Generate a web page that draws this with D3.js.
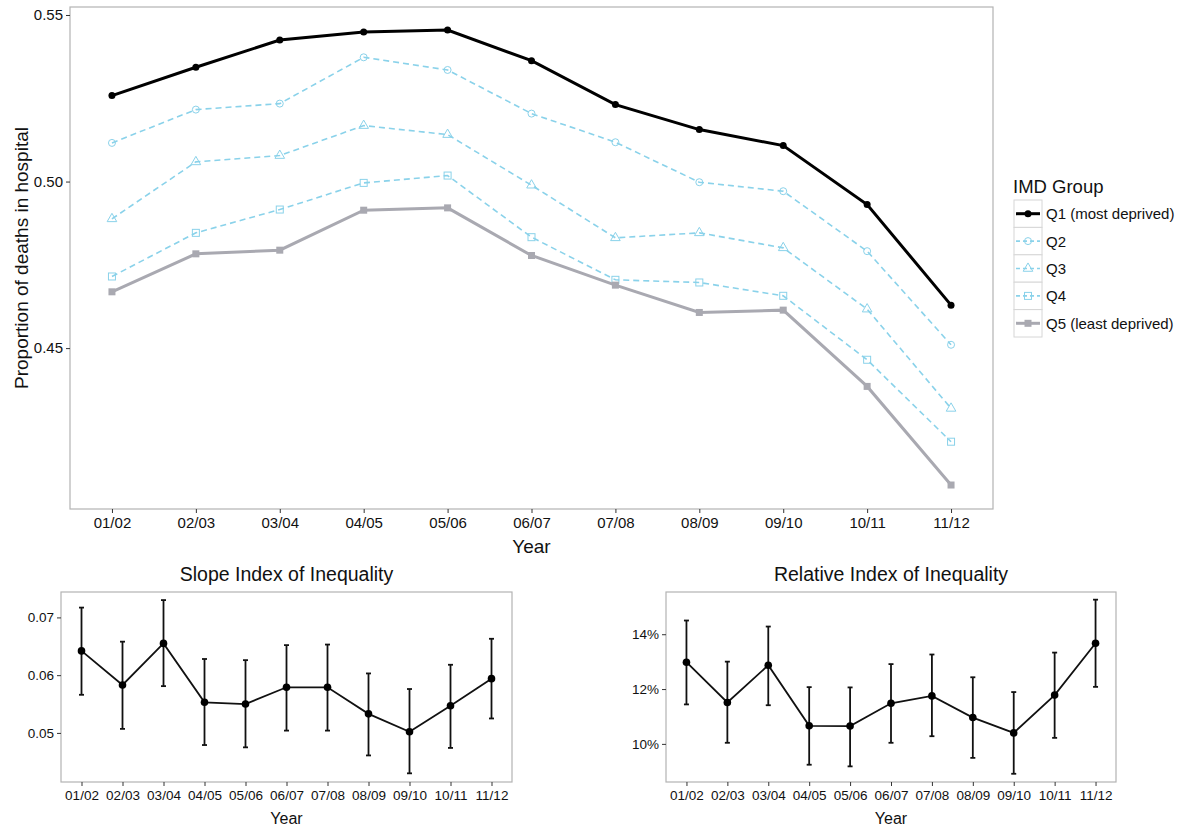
<!DOCTYPE html>
<html>
<head>
<meta charset="utf-8">
<script src="https://cdn.jsdelivr.net/npm/d3@7"></script>
<style>
  body { margin: 0; background: #fff; }
  svg { font-family: "Liberation Sans", Arial, sans-serif; }
</style>
</head>
<body>
<div id="chart"></div>
<script>
// Data
const years = ["01/02", "02/03", "03/04", "04/05", "05/06", "06/07", "07/08", "08/09", "09/10", "10/11", "11/12"];

const q1 = [0.5258, 0.5343, 0.5425, 0.5449, 0.5455, 0.5363, 0.5231, 0.5156, 0.5108, 0.4931, 0.4629];
const q2 = [0.5116, 0.5216, 0.5234, 0.5373, 0.5335, 0.5204, 0.5118, 0.4998, 0.4971, 0.4791, 0.4510];
const q3 = [0.4888, 0.5059, 0.5078, 0.5168, 0.5141, 0.4989, 0.4831, 0.4846, 0.4801, 0.4617, 0.4319];
const q4 = [0.4715, 0.4846, 0.4916, 0.4996, 0.5018, 0.4833, 0.4705, 0.4697, 0.4657, 0.4465, 0.4219];
const q5 = [0.4669, 0.4783, 0.4794, 0.4914, 0.4921, 0.4778, 0.4689, 0.4607, 0.4614, 0.4385, 0.4089];
const groupNames = ["Q1 (most deprived)", "Q2", "Q3", "Q4", "Q5 (least deprived)"];
const mainTicks = [0.45, 0.50, 0.55];

const sii = [0.0642, 0.0583, 0.0655, 0.0553, 0.0550, 0.0579, 0.0579, 0.0533, 0.0502, 0.0547, 0.0594];
const siiLow = [0.0566, 0.0507, 0.0581, 0.0479, 0.0475, 0.0504, 0.0504, 0.0461, 0.0430, 0.0474, 0.0525];
const siiHigh = [0.0717, 0.0658, 0.0730, 0.0628, 0.0626, 0.0652, 0.0653, 0.0603, 0.0576, 0.0618, 0.0663];
const siiTicks = [0.05, 0.06, 0.07];

const rii = [12.98, 11.51, 12.87, 10.66, 10.65, 11.48, 11.75, 10.96, 10.40, 11.78, 13.67];
const riiLow = [11.44, 10.04, 11.41, 9.24, 9.18, 10.04, 10.28, 9.49, 8.91, 10.22, 12.08];
const riiHigh = [14.50, 13.00, 14.28, 12.07, 12.06, 12.91, 13.26, 12.43, 11.89, 13.33, 15.26];
const riiTicks = [10, 12, 14];

const W = 1195, H = 828;
const svg = d3.select("#chart").append("svg").attr("width", W).attr("height", H);

const frame = "#b3b3b3";
const blue = "#8ad2ea";
const ink = "#111";

function panel(box, yDomain, ticks, fmt) {
  const x = d3.scalePoint().domain(years).range([box.l, box.r]).padding(0.5);
  const y = d3.scaleLinear().domain(yDomain).range([box.b, box.t]);
  svg.append("rect")
    .attr("x", box.l).attr("y", box.t)
    .attr("width", box.r - box.l).attr("height", box.b - box.t)
    .attr("fill", "none").attr("stroke", frame).attr("stroke-width", 1.2);

  const xa = svg.append("g").attr("transform", `translate(0,${box.b})`)
    .call(d3.axisBottom(x).tickSize(4).tickPadding(4));
  const ya = svg.append("g").attr("transform", `translate(${box.l},0)`)
    .call(d3.axisLeft(y).tickValues(ticks).tickFormat(fmt).tickSize(4).tickPadding(3));
  [xa, ya].forEach(a => {
    a.select(".domain").remove();
    a.selectAll("line").attr("stroke", "#333");
    a.selectAll("text").attr("fill", ink).style("font-size", box.fs + "px");
  });
  return { x, y };
}

// ---------- main panel ----------
const main = { l: 70, r: 993, t: 7, b: 509, fs: 15 };
const m = panel(main, [0.4017, 0.5524], mainTicks, d3.format(".2f"));

svg.append("text").attr("x", (main.l + main.r) / 2).attr("y", 553)
  .attr("text-anchor", "middle").style("font-size", "19px").attr("fill", ink).text("Year");
svg.append("text")
  .attr("transform", `translate(28,${(main.t + main.b) / 2}) rotate(-90)`)
  .attr("text-anchor", "middle").style("font-size", "19px").attr("fill", ink)
  .text("Proportion of deaths in hospital");

const series = [
  { vals: q1, color: "#000", width: 3, dash: null, shape: "dot" },
  { vals: q2, color: blue, width: 1.6, dash: "6,4", shape: "circle" },
  { vals: q3, color: blue, width: 1.6, dash: "6,4", shape: "triangle" },
  { vals: q4, color: blue, width: 1.6, dash: "6,4", shape: "square" },
  { vals: q5, color: "#a9a9b1", width: 3, dash: null, shape: "fsquare" }
];

const line = d3.line().x((d, i) => m.x(years[i])).y(d => m.y(d));

function marker(g, shape, cx, cy, color) {
  if (shape === "dot") {
    g.append("circle").attr("cx", cx).attr("cy", cy).attr("r", 3.5).attr("fill", color);
  } else if (shape === "circle") {
    g.append("circle").attr("cx", cx).attr("cy", cy).attr("r", 3.5)
      .attr("fill", "none").attr("stroke", color).attr("stroke-width", 1);
  } else if (shape === "triangle") {
    g.append("path").attr("d", d3.symbol(d3.symbolTriangle, 40)())
      .attr("transform", `translate(${cx},${cy})`)
      .attr("fill", "none").attr("stroke", color).attr("stroke-width", 1);
  } else if (shape === "square") {
    g.append("rect").attr("x", cx - 3.5).attr("y", cy - 3.5).attr("width", 7).attr("height", 7)
      .attr("fill", "none").attr("stroke", color).attr("stroke-width", 1);
  } else {
    g.append("rect").attr("x", cx - 3.5).attr("y", cy - 3.5).attr("width", 7).attr("height", 7)
      .attr("fill", color);
  }
}

// draw light series first, then Q5, then Q1 on top
[1, 2, 3, 4, 0].forEach(k => {
  const s = series[k];
  const g = svg.append("g");
  g.append("path").datum(s.vals).attr("d", line)
    .attr("fill", "none").attr("stroke", s.color).attr("stroke-width", s.width)
    .attr("stroke-dasharray", s.dash);
  s.vals.forEach((v, i) => marker(g, s.shape, m.x(years[i]), m.y(v), s.color));
});

// legend
const lg = svg.append("g");
lg.append("text").attr("x", 1013).attr("y", 193).style("font-size", "18.5px").attr("fill", ink).text("IMD Group");
series.forEach((s, i) => {
  const top = 200 + i * 27.4;
  const cy = top + 13.7;
  lg.append("rect").attr("x", 1014).attr("y", top).attr("width", 28).attr("height", 27.4)
    .attr("fill", "#fff").attr("stroke", "#d6d6d6").attr("stroke-width", 1);
  lg.append("line").attr("x1", 1016).attr("x2", 1040).attr("y1", cy).attr("y2", cy)
    .attr("stroke", s.color).attr("stroke-width", s.width).attr("stroke-dasharray", s.dash ? "4,3" : null);
  marker(lg, s.shape, 1028, cy, s.color);
  lg.append("text").attr("x", 1046).attr("y", cy + 5.5).style("font-size", "15px").attr("fill", ink)
    .text(groupNames[i]);
});

// ---------- bottom panels ----------
function errPanel(box, dom, ticks, fmt, vals, lows, highs, title) {
  const p = panel(box, dom, ticks, fmt);
  svg.append("text").attr("x", (box.l + box.r) / 2).attr("y", box.t - 11)
    .attr("text-anchor", "middle").style("font-size", "19.5px").attr("fill", ink).text(title);
  svg.append("text").attr("x", (box.l + box.r) / 2).attr("y", 824)
    .attr("text-anchor", "middle").style("font-size", "16px").attr("fill", ink).text("Year");
  const g = svg.append("g");
  years.forEach((yr, i) => {
    const cx = p.x(yr);
    g.append("line").attr("x1", cx).attr("x2", cx).attr("y1", p.y(lows[i])).attr("y2", p.y(highs[i]))
      .attr("stroke", "#111").attr("stroke-width", 1.8);
    [lows[i], highs[i]].forEach(v => {
      g.append("line").attr("x1", cx - 2.5).attr("x2", cx + 2.5).attr("y1", p.y(v)).attr("y2", p.y(v))
        .attr("stroke", "#111").attr("stroke-width", 1.8);
    });
  });
  g.append("path").datum(vals)
    .attr("d", d3.line().x((d, i) => p.x(years[i])).y(d => p.y(d)))
    .attr("fill", "none").attr("stroke", "#111").attr("stroke-width", 1.8);
  vals.forEach((v, i) => g.append("circle").attr("cx", p.x(years[i])).attr("cy", p.y(v)).attr("r", 3.8).attr("fill", "#000"));
}

errPanel({ l: 61, r: 512, t: 592, b: 782, fs: 13.5 }, [0.0415, 0.0744], siiTicks, d3.format(".2f"),
  sii, siiLow, siiHigh, "Slope Index of Inequality");
errPanel({ l: 666, r: 1116, t: 592, b: 782, fs: 13.5 }, [8.61, 15.54], riiTicks, d => d + "%",
  rii, riiLow, riiHigh, "Relative Index of Inequality");
</script>
</body>
</html>
